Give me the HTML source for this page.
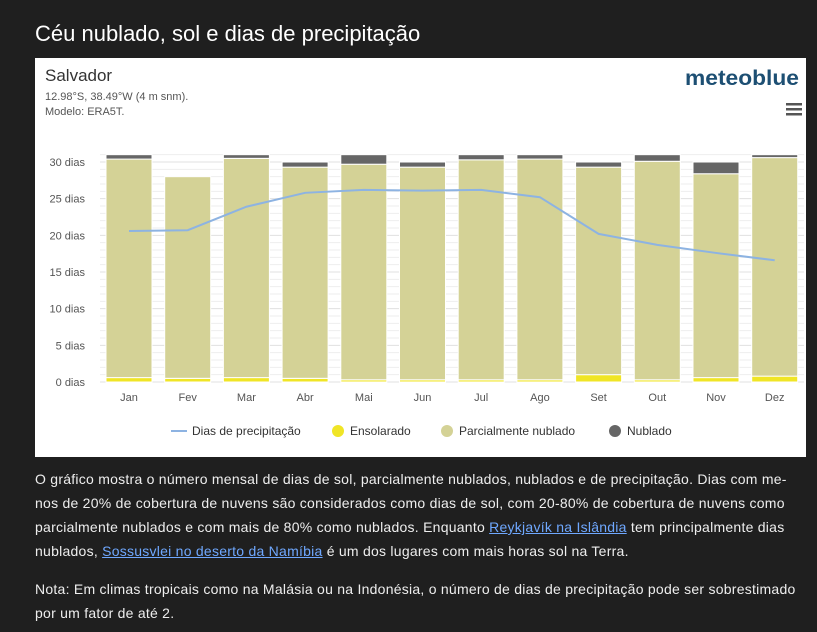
<!DOCTYPE html>
<html><head><meta charset="utf-8"><style>
body{margin:0;width:817px;height:632px;background:#1f1f1f;font-family:"Liberation Sans",sans-serif;overflow:hidden;position:relative;color:#fff}
h1{position:absolute;left:35px;top:21px;margin:0;font-weight:normal;font-size:22px;color:#fff}
#box{position:absolute;left:35px;top:58px;width:771px;height:399px;background:#fff}
p{position:absolute;left:35px;margin:0;font-size:14px;letter-spacing:0.25px;line-height:24px;width:778px;color:#eee}
a{color:#6fa8ff;text-decoration:underline}
</style></head><body>
<h1>Céu nublado, sol e dias de precipitação</h1>
<div id="box">
<svg width="771" height="399" id="svg" font-family="Liberation Sans, sans-serif">
<text x="10" y="23" font-size="17" fill="#333">Salvador</text>
<text x="10" y="42" font-size="11" fill="#555">12.98°S, 38.49°W (4 m snm).</text>
<text x="10" y="57" font-size="11" fill="#555">Modelo: ERA5T.</text>
<text x="650" y="27" font-size="21" font-weight="bold" fill="#1d4f73" textLength="114" lengthAdjust="spacingAndGlyphs">meteoblue</text>
<g fill="#555"><rect x="751" y="45" width="16" height="2.5"/><rect x="751" y="50" width="16" height="2.5"/><rect x="751" y="55" width="16" height="2.5"/></g>
<g id="grid"></g><g id="bars"></g><g id="line"></g><g id="axes"></g>
<g font-size="12" fill="#333">
<g><line x1="136" y1="373" x2="152" y2="373" stroke="#8db3e2" stroke-width="2"/><text x="157" y="377">Dias de precipitação</text></g>
<g><circle cx="303" cy="373" r="6" fill="#f0e526"/><text x="315" y="377">Ensolarado</text></g>
<g><circle cx="412" cy="373" r="6" fill="#d4d296"/><text x="424" y="377">Parcialmente nublado</text></g>
<g><circle cx="580" cy="373" r="6" fill="#666"/><text x="592" y="377">Nublado</text></g>
</g>
</svg></div>
<p style="top:467px">O gráfico mostra o número mensal de dias de sol, parcialmente nublados, nublados e de precipitação. Dias com me-<br>nos de 20% de cobertura de nuvens são considerados como dias de sol, com 20-80% de cobertura de nuvens como parcialmente nublados e com mais de 80% como nublados. Enquanto <a>Reykjavík na Islândia</a> tem principalmente dias<br>nublados, <a>Sossusvlei no deserto da Namíbia</a> é um dos lugares com mais horas sol na Terra.</p>
<p style="top:577px">Nota: Em climas tropicais como na Malásia ou na Indonésia, o número de dias de precipitação pode ser sobrestimado<br>por um fator de até 2.</p>
<script>
const months=["Jan","Fev","Mar","Abr","Mai","Jun","Jul","Ago","Set","Out","Nov","Dez"];
const sunny=[0.6,0.5,0.6,0.5,0.3,0.3,0.3,0.3,1.0,0.3,0.6,0.8];
const partly=[29.8,27.5,29.9,28.8,29.4,29.0,30.0,30.1,28.3,29.8,27.8,29.8];
const cloudy=[0.6,0,0.5,0.7,1.3,0.7,0.7,0.6,0.7,0.9,1.6,0.4];
const precip=[20.6,20.7,23.9,25.8,26.2,26.1,26.2,25.2,20.2,18.7,17.6,16.6];
const yTicks=[0,5,10,15,20,25,30];
const NS="http://www.w3.org/2000/svg";
const y=v=>324-v*7.333;
const x=i=>94+i*58.7;
function mk(t,a,p){const e=document.createElementNS(NS,t);for(const k in a)e.setAttribute(k,a[k]);p.appendChild(e);return e;}
const grid=document.getElementById('grid'),bars=document.getElementById('bars'),axes=document.getElementById('axes'),line=document.getElementById('line');
for(let v=0;v<=31;v++){const g=mk('line',{x1:65,x2:769,y1:y(v),y2:y(v),stroke:v%5==0?'#e0e0e0':'#eeeeee','stroke-width':1},grid);

}
yTicks.forEach(v=>{const t=mk('text',{x:50,y:y(v)+4,'font-size':11,fill:'#555','text-anchor':'end'},axes);t.textContent=v+' dias';

});
months.forEach((m,i)=>{const cx=x(i);let b=0;
[[sunny,'#f0e526','bar-sunny'],[partly,'#d4d296','bar-partly-cloudy'],[cloudy,'#666666','bar-cloudy']].forEach(([arr,c,n])=>{
const v=arr[i];if(v<=0)return;const r=mk('rect',{x:cx-23,width:46,y:y(b+v),height:v*7.333,fill:c,stroke:'#fff','stroke-width':1},bars);

b+=v;});
const t=mk('text',{x:cx,y:343,'font-size':11,fill:'#555','text-anchor':'middle'},axes);t.textContent=m;

});
const pl=mk('polyline',{points:precip.map((v,i)=>x(i)+','+y(v)).join(' '),fill:'none',stroke:'#8db3e2','stroke-width':2},line);


</script>
</body></html>
